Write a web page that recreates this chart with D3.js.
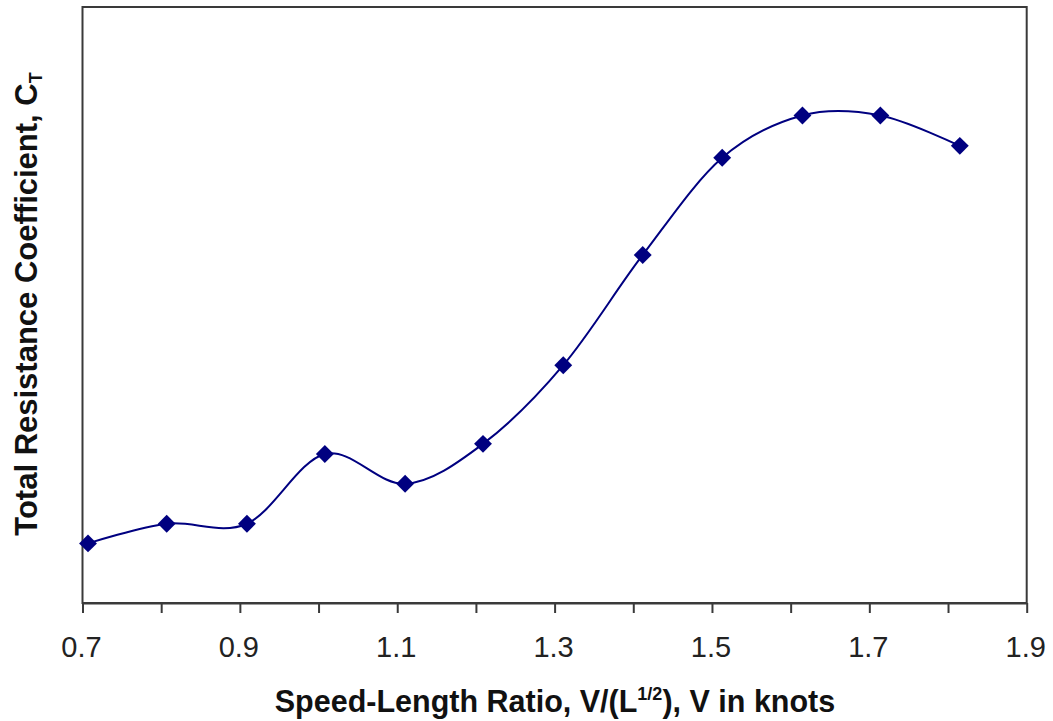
<!DOCTYPE html>
<html>
<head>
<meta charset="utf-8">
<script src="https://cdn.jsdelivr.net/npm/d3@7"></script>
<style>
  html, body { margin: 0; padding: 0; background: #fff; }
  svg { display: block; }
</style>
</head>
<body>
<svg id="chart" width="1053" height="721"></svg>
<script>
// ---- data ----
const speedLengthRatio = [0.707, 0.807, 0.909, 1.008, 1.110, 1.209, 1.311, 1.412, 1.513, 1.615, 1.714, 1.815];
const resistanceCoeff  = [1.00, 1.33, 1.33, 2.50, 2.00, 2.67, 3.99, 5.84, 7.47, 8.18, 8.18, 7.67];
const xTickValues = [0.7, 0.8, 0.9, 1.0, 1.1, 1.2, 1.3, 1.4, 1.5, 1.6, 1.7, 1.8, 1.9];
const xTickLabels = ["0.7", "0.9", "1.1", "1.3", "1.5", "1.7", "1.9"];
const xTitle = ["Speed-Length Ratio, V/(L", "1/2", "), V in knots"];
const yTitle = ["Total Resistance Coefficient, C", "T"];

(function () {
const svg = d3.select("#chart");
const pLeft = 82.5, pRight = 1026.7, pTop = 7, pBottom = 603;

const x = d3.scaleLinear().domain([0.7, 1.9]).range([pLeft, pRight]);
const y = d3.scaleLinear().domain([0, 10]).range([pBottom, pTop]);

const axisColor = "#3a3a3a";

// plot frame
svg.append("rect")
  .attr("x", pLeft).attr("y", pTop)
  .attr("width", pRight - pLeft).attr("height", pBottom - pTop)
  .attr("fill", "none").attr("stroke", axisColor).attr("stroke-width", 2);

// x axis ticks
const gx = svg.append("g")
  .attr("transform", `translate(0,${pBottom})`)
  .call(d3.axisBottom(x).tickValues(xTickValues).tickFormat("").tickSize(10).tickSizeOuter(0));
gx.select(".domain").attr("stroke", axisColor).attr("stroke-width", 2);
gx.selectAll(".tick line").attr("stroke", axisColor).attr("stroke-width", 2);

// x tick labels
svg.append("g").selectAll("text")
  .data(xTickLabels)
  .join("text")
  .attr("x", d => x(+d) - 1)
  .attr("y", 657)
  .attr("text-anchor", "middle")
  .attr("font-family", "Liberation Sans, Arial, sans-serif")
  .attr("font-size", 29)
  .attr("fill", "#222")
  .text(d => d);

// x title
const xt = svg.append("text")
  .attr("x", 555).attr("y", 712)
  .attr("text-anchor", "middle")
  .attr("font-family", "Liberation Sans, Arial, sans-serif")
  .attr("font-size", 30.5)
  .attr("font-weight", "bold")
  .attr("fill", "#111");
xt.append("tspan").text(xTitle[0]);
xt.append("tspan").attr("font-size", 18).attr("dy", -12).text(xTitle[1]);
xt.append("tspan").attr("dy", 12).text(xTitle[2]);

// y title
const yt = svg.append("text")
  .attr("transform", "translate(37,304) rotate(-90)")
  .attr("text-anchor", "middle")
  .attr("font-family", "Liberation Sans, Arial, sans-serif")
  .attr("font-size", 31)
  .attr("font-weight", "bold")
  .attr("fill", "#111");
yt.append("tspan").text(yTitle[0]);
yt.append("tspan").attr("font-size", 18).attr("dy", 5).text(yTitle[1]);

// data
const pts = speedLengthRatio.map((v, i) => [v, resistanceCoeff[i]]);
const navy = "#000080";

svg.append("path")
  .datum(pts)
  .attr("fill", "none")
  .attr("stroke", navy)
  .attr("stroke-width", 2)
  .attr("d", d3.line().x(d => x(d[0])).y(d => y(d[1])).curve(d3.curveCardinal.tension(0)));

svg.append("g").selectAll("path")
  .data(pts)
  .join("path")
  .attr("transform", d => `translate(${x(d[0])},${y(d[1])}) rotate(45)`)
  .attr("d", d3.symbol().type(d3.symbolSquare).size(160))
  .attr("fill", navy);
})();
</script>
</body>
</html>
